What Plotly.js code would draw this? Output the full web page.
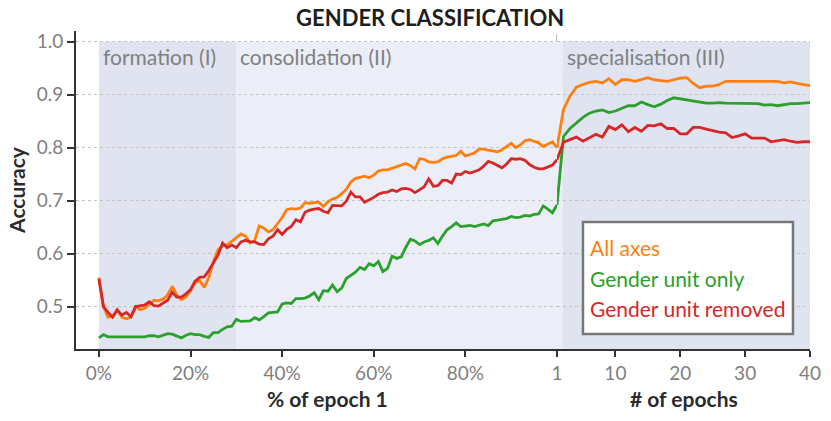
<!DOCTYPE html>
<html>
<head>
<meta charset="utf-8">
<script src="https://cdn.plot.ly/plotly-3.0.1.min.js"></script>
<style>
	html, body { margin: 0; padding: 0; background: #fff; }
	#gender_chart { width: 831px; height: 421px; }
</style>
</head>
<body>
<div id="gender_chart"></div>
<script>
// % of epoch 1, one point per percent
var pct_steps = [];
for (var i = 0; i <= 100; i++) {
	pct_steps.push(i);
}
var epoch_steps = [];
for (var i = 1; i <= 40; i++) {
	epoch_steps.push(i);
}

var all_axes_epoch1 = [0.555, 0.500, 0.480, 0.482, 0.494, 0.480, 0.477, 0.480, 0.500, 0.494,
	0.497, 0.505, 0.512, 0.511, 0.514, 0.522, 0.538, 0.522, 0.513, 0.518,
	0.530, 0.545, 0.549, 0.536, 0.555, 0.585, 0.607, 0.615, 0.617, 0.623,
	0.630, 0.637, 0.633, 0.620, 0.625, 0.652, 0.648, 0.641, 0.645, 0.657,
	0.668, 0.683, 0.685, 0.684, 0.686, 0.696, 0.695, 0.696, 0.697, 0.689,
	0.698, 0.703, 0.706, 0.713, 0.721, 0.735, 0.742, 0.744, 0.746, 0.743,
	0.748, 0.756, 0.758, 0.758, 0.761, 0.764, 0.767, 0.770, 0.766, 0.760,
	0.779, 0.778, 0.773, 0.772, 0.773, 0.779, 0.782, 0.783, 0.785, 0.793,
	0.784, 0.787, 0.790, 0.797, 0.797, 0.795, 0.794, 0.792, 0.796, 0.802,
	0.808, 0.800, 0.805, 0.813, 0.815, 0.812, 0.809, 0.802, 0.807, 0.811,
	0.800];
var unit_only_epoch1 = [0.441, 0.447, 0.443, 0.443, 0.443, 0.443, 0.443, 0.443, 0.443, 0.443,
	0.443, 0.445, 0.445, 0.443, 0.446, 0.449, 0.448, 0.444, 0.441, 0.446,
	0.449, 0.447, 0.447, 0.444, 0.442, 0.451, 0.451, 0.457, 0.462, 0.463,
	0.476, 0.472, 0.473, 0.473, 0.479, 0.475, 0.481, 0.488, 0.489, 0.490,
	0.505, 0.507, 0.506, 0.515, 0.515, 0.516, 0.520, 0.526, 0.513, 0.530,
	0.529, 0.541, 0.528, 0.535, 0.553, 0.559, 0.565, 0.574, 0.570, 0.581,
	0.577, 0.585, 0.566, 0.572, 0.595, 0.591, 0.594, 0.612, 0.627, 0.624,
	0.617, 0.622, 0.625, 0.630, 0.619, 0.633, 0.645, 0.651, 0.658, 0.651,
	0.652, 0.653, 0.651, 0.654, 0.656, 0.653, 0.662, 0.663, 0.664, 0.666,
	0.670, 0.668, 0.669, 0.672, 0.671, 0.674, 0.675, 0.690, 0.684, 0.677,
	0.692];
var unit_removed_epoch1 = [0.552, 0.500, 0.489, 0.480, 0.494, 0.484, 0.489, 0.481, 0.500, 0.502,
	0.503, 0.509, 0.502, 0.501, 0.506, 0.512, 0.527, 0.518, 0.518, 0.524,
	0.532, 0.548, 0.555, 0.556, 0.568, 0.582, 0.597, 0.620, 0.611, 0.616,
	0.611, 0.622, 0.625, 0.622, 0.622, 0.618, 0.617, 0.628, 0.633, 0.645,
	0.636, 0.646, 0.651, 0.664, 0.660, 0.678, 0.682, 0.684, 0.685, 0.680,
	0.677, 0.691, 0.690, 0.690, 0.699, 0.716, 0.707, 0.707, 0.697, 0.701,
	0.706, 0.712, 0.715, 0.716, 0.720, 0.717, 0.722, 0.723, 0.721, 0.715,
	0.720, 0.726, 0.741, 0.727, 0.728, 0.738, 0.738, 0.733, 0.750, 0.749,
	0.755, 0.752, 0.755, 0.758, 0.765, 0.774, 0.771, 0.767, 0.762, 0.769,
	0.779, 0.778, 0.779, 0.776, 0.768, 0.763, 0.760, 0.760, 0.763, 0.767,
	0.777];

// epochs 1..40
var all_axes_epochs = [0.800, 0.872, 0.897, 0.914, 0.919, 0.923, 0.925, 0.922, 0.930, 0.919,
	0.928, 0.928, 0.925, 0.928, 0.932, 0.928, 0.927, 0.925, 0.928, 0.931,
	0.932, 0.921, 0.913, 0.916, 0.916, 0.919, 0.925, 0.925, 0.925, 0.926,
	0.926, 0.926, 0.926, 0.925, 0.925, 0.922, 0.924, 0.921, 0.919, 0.917];
var unit_only_epochs = [0.692, 0.821, 0.836, 0.846, 0.857, 0.865, 0.869, 0.871, 0.866, 0.869,
	0.874, 0.879, 0.879, 0.886, 0.881, 0.877, 0.882, 0.889, 0.894, 0.892,
	0.889, 0.888, 0.886, 0.884, 0.884, 0.885, 0.884, 0.884, 0.884, 0.884,
	0.884, 0.883, 0.880, 0.881, 0.879, 0.881, 0.883, 0.883, 0.884, 0.885];
var unit_removed_epochs = [0.777, 0.810, 0.815, 0.820, 0.812, 0.818, 0.825, 0.820, 0.840, 0.834,
	0.843, 0.830, 0.838, 0.831, 0.842, 0.841, 0.845, 0.836, 0.836, 0.826,
	0.826, 0.838, 0.838, 0.835, 0.832, 0.829, 0.828, 0.819, 0.822, 0.826,
	0.818, 0.818, 0.818, 0.811, 0.813, 0.815, 0.812, 0.810, 0.811, 0.811];

var series_names = ['All axes', 'Gender unit only', 'Gender unit removed'];
var series_colours = ['#ff7f0e', '#2ca02c', '#d62728'];

var pct_tickvals = [0, 20, 40, 60, 80];
var pct_ticktext = ['0%', '20%', '40%', '60%', '80%'];
var epoch_tickvals = [1, 10, 20, 30, 40];
var y_tickvals = [0.5, 0.6, 0.7, 0.8, 0.9, 1.0];
var y_ticktext = ['0.5', '0.6', '0.7', '0.8', '0.9', '1.0'];

// training phases: [axis, start, end, label]
var phases = [
	['x', 0, 30, 'formation (I)'],
	['x', 30, 100, 'consolidation (II)'],
	['x2', 1, 1.85, ''],
	['x2', 1.85, 40, 'specialisation (III)']
];
var phase_colours = ['#dfe4f0', '#ebeef6', '#ebeef6', '#dfe4f0'];

var font_family = 'Lato, "Open Sans", sans-serif';
var grey_text = '#808080';

var left_values = [all_axes_epoch1, unit_only_epoch1, unit_removed_epoch1];
var right_values = [all_axes_epochs, unit_only_epochs, unit_removed_epochs];

var data = [];
for (var i = 0; i < 3; i++) {
	data.push({
		x: pct_steps,
		y: left_values[i],
		type: 'scatter',
		mode: 'lines',
		name: series_names[i],
		line: { color: series_colours[i], width: 2.8 },
		xaxis: 'x',
		yaxis: 'y',
		showlegend: false
	});
	data.push({
		x: epoch_steps,
		y: right_values[i],
		type: 'scatter',
		mode: 'lines',
		name: series_names[i],
		line: { color: series_colours[i], width: 2.8 },
		xaxis: 'x2',
		yaxis: 'y',
		showlegend: false
	});
}

var shapes_object = [];
var annotations = [];
for (var i = 0; i < phases.length; i++) {
	shapes_object.push({
		type: 'rect',
		layer: 'below',
		xref: phases[i][0],
		yref: 'y',
		x0: phases[i][1],
		x1: phases[i][2],
		y0: 0.42,
		y1: 1.0,
		fillcolor: phase_colours[i],
		line: { width: 0 }
	});
	if (phases[i][3] !== '') {
		annotations.push({
			xref: phases[i][0],
			yref: 'y',
			x: phases[i][1],
			y: 0.972,
			xanchor: 'left',
			xshift: 2,
			text: phases[i][3],
			showarrow: false,
			font: { family: font_family, size: 21, color: grey_text }
		});
	}
}

// end of epoch 1
shapes_object.push({
	type: 'line',
	layer: 'below',
	xref: 'x',
	yref: 'paper',
	x0: 100,
	x1: 100,
	y0: 0,
	y1: 1,
	line: { color: '#a0a0a0', width: 1.4, dash: 'dash' }
});

// legend box with coloured labels
shapes_object.push({
	type: 'rect',
	layer: 'above',
	xref: 'paper',
	yref: 'paper',
	x0: 0.6907,
	x1: 0.9768,
	y0: 0.047,
	y1: 0.399,
	fillcolor: '#ffffff',
	line: { color: '#777777', width: 2.5 }
});
var legend_rows = [0.320, 0.222, 0.126];
for (var i = 0; i < 3; i++) {
	annotations.push({
		xref: 'paper',
		yref: 'paper',
		x: 0.6975,
		y: legend_rows[i],
		xanchor: 'left',
		yanchor: 'middle',
		text: series_names[i],
		showarrow: false,
		font: { family: font_family, size: 21, color: series_colours[i] }
	});
}

annotations.push({
	xref: 'x',
	yref: 'paper',
	x: 50,
	y: 0,
	yshift: -49,
	yanchor: 'middle',
	text: '<b>% of epoch 1</b>',
	showarrow: false,
	font: { family: font_family, size: 21, color: '#2b2b2b' }
});
annotations.push({
	xref: 'x2',
	yref: 'paper',
	x: 20.5,
	y: 0,
	yshift: -49,
	yanchor: 'middle',
	text: '<b># of epochs</b>',
	showarrow: false,
	font: { family: font_family, size: 21, color: '#2b2b2b' }
});

var split = (557 - 76) / 734;

var axis_common = {
	showline: true,
	linecolor: '#333333',
	linewidth: 2,
	ticks: 'outside',
	ticklen: 6,
	tickwidth: 2,
	tickcolor: '#333333',
	zeroline: false,
	fixedrange: true,
	tickfont: { family: font_family, size: 19, color: grey_text }
};

var layout = {
	width: 831,
	height: 421,
	margin: { l: 76, r: 21, t: 31, b: 72 },
	paper_bgcolor: '#ffffff',
	plot_bgcolor: '#ffffff',
	showlegend: false,
	title: {
		text: '<b>GENDER CLASSIFICATION</b>',
		xref: 'paper',
		x: 0.4825,
		xanchor: 'center',
		y: 0.957,
		yanchor: 'middle',
		font: { family: font_family, size: 22, color: '#1e1e1e' }
	},
	xaxis: Object.assign({}, axis_common, {
		domain: [0, split],
		range: [-5, 100],
		tickmode: 'array',
		tickvals: pct_tickvals,
		ticktext: pct_ticktext,
		showgrid: false,
		anchor: 'y'
	}),
	xaxis2: Object.assign({}, axis_common, {
		domain: [split, 1],
		range: [1, 40],
		tickmode: 'array',
		tickvals: epoch_tickvals,
		showgrid: false,
		anchor: 'y'
	}),
	yaxis: Object.assign({}, axis_common, {
		range: [0.42, 1.02],
		tickmode: 'array',
		tickvals: y_tickvals,
		ticktext: y_ticktext,
		ticklen: 7,
		showgrid: true,
		gridcolor: '#c4c4c4',
		griddash: 'dot',
		gridwidth: 1.2,
		tickfont: { family: font_family, size: 19, color: grey_text },
		title: {
			text: '<b>Accuracy</b>',
			standoff: 5,
			font: { family: font_family, size: 21, color: '#2b2b2b' }
		}
	}),
	shapes: shapes_object,
	annotations: annotations
};

var config = {
	displayModeBar: false,
	responsive: false
};

Plotly.newPlot('gender_chart', data, layout, config);
</script>
</body>
</html>
